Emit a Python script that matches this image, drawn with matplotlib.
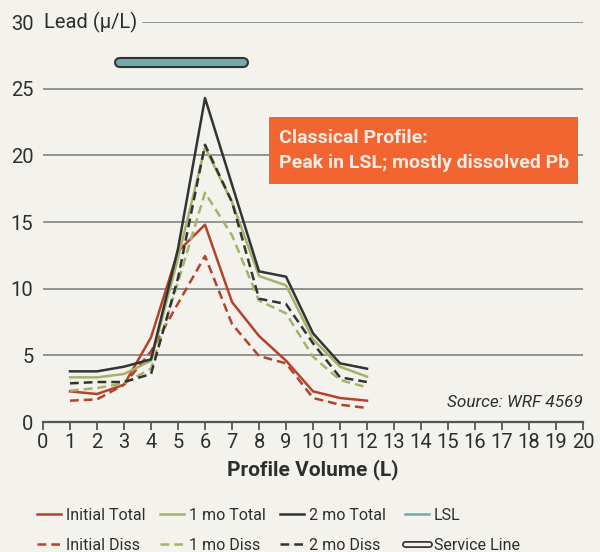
import matplotlib.pyplot as plt
from matplotlib.lines import Line2D
from matplotlib.patches import Rectangle
import matplotlib.patheffects as pe

# data
volume = [1, 2, 3, 4, 5, 6, 7, 8, 9, 10, 11, 12]
initial_total = [2.3, 2.1, 2.8, 6.35, 12.8, 14.8, 9.0, 6.45, 4.6, 2.3, 1.8, 1.6]
initial_diss = [1.6, 1.7, 2.8, 5.3, 8.9, 12.45, 7.35, 4.95, 4.4, 1.8, 1.3, 1.05]
mo1_total = [3.35, 3.35, 3.6, 4.6, 12.3, 20.6, 16.5, 10.95, 10.25, 6.2, 4.15, 3.4]
mo1_diss = [2.35, 2.55, 2.9, 4.0, 10.5, 17.2, 14.0, 9.1, 8.15, 4.9, 3.15, 2.6]
mo2_total = [3.8, 3.8, 4.15, 4.7, 13.0, 24.3, 17.8, 11.3, 10.9, 6.65, 4.4, 4.0]
mo2_diss = [2.9, 3.0, 3.0, 3.6, 10.8, 20.8, 16.5, 9.25, 8.85, 5.9, 3.35, 3.0]
lsl_start, lsl_end, lsl_y = 2.8, 7.4, 27

bg = '#f3f2ec'
red = '#b4432c'
green = '#a2b46a'
dark = '#333333'
teal = '#72abae'
orange = '#f26531'
txt = '#2e2e2e'

plt.rcParams['font.family'] = ['Roboto', 'DejaVu Sans']

fig = plt.figure(figsize=(6, 5.52), dpi=100, facecolor=bg)
ax = fig.add_axes([0.0717, 0.2355, 0.9, 0.7245])
ax.set_facecolor(bg)

ax.set_xlim(0, 20)
ax.set_ylim(0, 30)
ax.set_xticks(range(0, 21))
ax.set_yticks(range(0, 31, 5))
for y in range(5, 31, 5):
    ax.axhline(y, color='#8c8c8c', lw=1.3, zorder=1)
for s in ['left', 'right', 'top']:
    ax.spines[s].set_visible(False)
ax.spines['bottom'].set_color('#555555')
ax.spines['bottom'].set_linewidth(1.6)
ax.tick_params(axis='x', colors='#555555', width=1.3, length=6, labelsize=14.5,
               labelcolor=txt, pad=2)
ax.tick_params(axis='y', length=0, labelsize=14.5, labelcolor=txt, pad=7)

dash = (0, (3.5, 2))
lw = 1.8
ax.plot(volume, initial_total, color=red, lw=lw, zorder=3)
ax.plot(volume, initial_diss, color=red, lw=lw, ls=dash, zorder=3)
ax.plot(volume, mo1_total, color=green, lw=lw, zorder=3)
ax.plot(volume, mo1_diss, color=green, lw=lw, ls=dash, zorder=3)
ax.plot(volume, mo2_total, color=dark, lw=lw, zorder=4)
ax.plot(volume, mo2_diss, color=dark, lw=lw, ls=dash, zorder=4)

# LSL bar
ax.plot([lsl_start, lsl_end], [lsl_y, lsl_y], color=teal, lw=5, solid_capstyle='round',
        zorder=5, path_effects=[pe.Stroke(linewidth=8, foreground=dark), pe.Normal()])

ax.text(0.05, 30, 'Lead (\u03bc/L)', fontsize=14.5, color=txt,
        va='center', ha='left', zorder=6,
        bbox=dict(facecolor=bg, edgecolor='none', pad=3))

# callout box
ax.add_patch(Rectangle((0.4185, 0.595), 0.5722, 0.1675, transform=ax.transAxes,
                       facecolor=orange, edgecolor='none', zorder=6))
ax.text(0.437, 0.679, 'Classical Profile:\nPeak in LSL; mostly dissolved Pb',
        transform=ax.transAxes, ha='left', va='center', fontsize=14,
        fontweight='bold', color='#f6ece4', linespacing=1.45, zorder=7)

ax.text(1.0, 0.05, 'Source: WRF 4569', transform=ax.transAxes, ha='right',
        va='center', fontsize=12.3, style='italic', color=txt)

ax.set_xlabel('Profile Volume (L)', fontsize=15, fontweight='bold', color=txt,
              labelpad=5)

# legend: four columns placed separately
service = Line2D([], [], color=bg, lw=2.5, solid_capstyle='round',
                 path_effects=[pe.Stroke(linewidth=5, foreground=dark), pe.Normal()])
columns = [
    ([Line2D([], [], color=red, lw=lw), Line2D([], [], color=red, lw=lw, ls=dash)],
     ['Initial Total', 'Initial Diss'], 37),
    ([Line2D([], [], color=green, lw=lw), Line2D([], [], color=green, lw=lw, ls=dash)],
     ['1 mo Total', '1 mo Diss'], 160),
    ([Line2D([], [], color=dark, lw=lw), Line2D([], [], color=dark, lw=lw, ls=dash)],
     ['2 mo Total', '2 mo Diss'], 280),
    ([Line2D([], [], color=teal, lw=lw), service], ['LSL', 'Service Line'], 405),
]
for hs, ls_, xpx in columns:
    leg = fig.legend(hs, ls_, loc='center left', bbox_to_anchor=(xpx / 600, 0.039),
                     frameon=False, fontsize=11.5, handlelength=1.5, handletextpad=0.3,
                     labelspacing=0.95, borderpad=0, borderaxespad=0)
    for t in leg.get_texts():
        t.set_color(txt)

fig.savefig('out.png', dpi=100, facecolor=bg)
